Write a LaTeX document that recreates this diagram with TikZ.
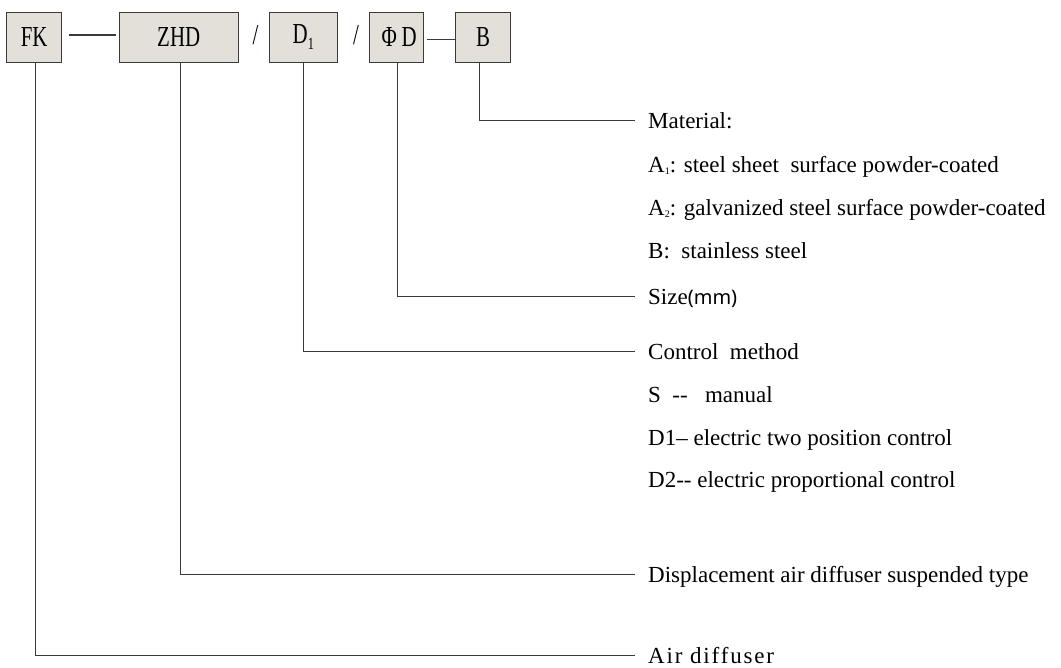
\documentclass[tikz,border=0pt]{standalone}
\usepackage{fontspec}
\setmainfont{Liberation Serif}
\newfontfamily\boxfont[FakeStretch=0.72]{Liberation Serif}
\newfontfamily\mmfont{Noto Sans}
\newfontfamily\spacedfont[LetterSpace=8]{Liberation Serif}
\newcommand{\lowidx}[1]{\raisebox{-2pt}{\fontsize{10}{10}\selectfont #1}}
\definecolor{boxfill}{HTML}{E3DFD9}
\definecolor{linegray}{HTML}{3A3A3A}
\tikzset{
  codebox/.style={draw=linegray,fill=boxfill,line width=0.9pt,minimum height=50pt,inner sep=0pt,font=\boxfont\fontsize{29}{29}\selectfont},
  leader/.style={draw=linegray,line width=0.8pt},
  desc/.style={anchor=west,inner xsep=13pt,inner ysep=0pt,text height=17pt,text depth=0pt,font=\fontsize{23}{26}\selectfont}
}
\begin{document}
\begin{tikzpicture}[x=1pt,y=-1pt]
  \useasboundingbox (0,0) rectangle (1061,668);
  % code boxes
  \node[codebox,minimum width=55pt] (fk) at (34.2,37) {FK\hspace{8pt}};
  \node[codebox,minimum width=119pt] (zhd) at (178.7,37) {ZHD\hspace{17pt}};
  \node[codebox,minimum width=68.5pt] (done) at (303.3,37) {D\raisebox{-6pt}{\fontsize{17}{17}\selectfont 1}\hspace{3pt}};
  \node[codebox,minimum width=54.5pt] (phid) at (396.2,37) {\hspace{6pt}Φ\,D};
  \node[codebox,minimum width=55pt] (b) at (483.2,37) {B\hspace{2pt}};
  \node[font=\boxfont\fontsize{29}{29}\selectfont,inner sep=0pt] (slasha) at (255.5,35) {/};
  \node[font=\boxfont\fontsize{29}{29}\selectfont,inner sep=0pt] (slashb) at (356,35) {/};
  \draw[leader,line width=1.2pt] ([xshift=6.5pt]fk.east|-0,35) -- ([xshift=-2.5pt]zhd.west|-0,35);
  \draw[leader] ([xshift=3pt]phid.east|-0,39.3) -- (b.west|-0,39.3);
  % descriptions
  \node[desc] (mat) at (635,120) {Material:};
  \node[desc] (aone) at (635,164) {A\lowidx{1}: steel sheet\ \ surface powder-coated};
  \node[desc] (atwo) at (635,207) {A\lowidx{2}: galvanized steel surface powder-coated};
  \node[desc] (bss) at (635,250) {B:\ \ stainless steel};
  \node[desc] (size) at (635,296) {Size{\mmfont\fontsize{20}{24}\selectfont(mm)}};
  \node[desc] (ctrl) at (635,351) {Control\ \ method};
  \node[desc] (man) at (635,394) {S\ \ -{}-\ \ \ manual};
  \node[desc] (dtwopos) at (635,437) {D1– electric two position control};
  \node[desc] (dprop) at (635,479) {D2-{}- electric proportional control};
  \node[desc] (disp) at (635,574) {Displacement air diffuser suspended type};
  \node[desc] (air) at (635,655) {\spacedfont Air diffuser};
  % leaders
  \draw[leader] ([xshift=-4pt]b.south) |- (mat.west);
  \draw[leader] ([xshift=1pt]phid.south) |- (size.west);
  \draw[leader] (done.south) |- (ctrl.west);
  \draw[leader] ([xshift=1.5pt]zhd.south) |- (disp.west);
  \draw[leader] ([xshift=1pt]fk.south) |- (air.west);
\end{tikzpicture}
\end{document}
